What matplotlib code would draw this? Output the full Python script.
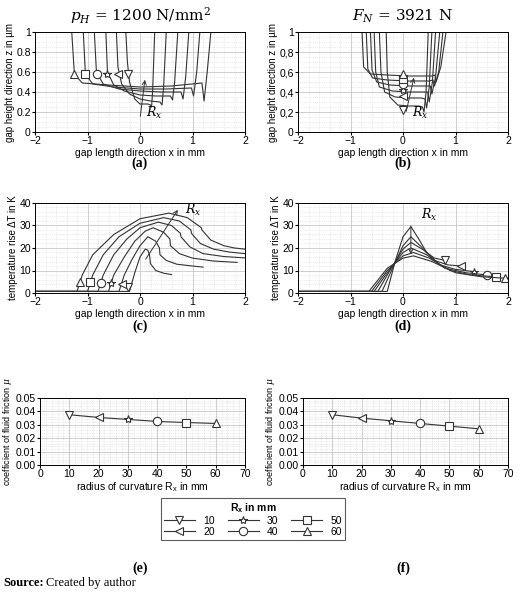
import numpy as np
import matplotlib
matplotlib.use("Agg")
from matplotlib import pyplot as plt

plt.rcParams['font.family'] = ['Liberation Sans', 'DejaVu Sans']
plt.rcParams['font.size'] = 7.5
plt.rcParams['mathtext.fontset'] = 'dejavuserif'

rx = [10, 20, 30, 40, 50, 60]
markers = ['v', '<', '*', 'o', 's', '^']

# (a) gap height, constant Hertz pressure
a_x = [[-0.27, -0.24, -0.2, -0.1, 0.0, 0.15, 0.2, 0.22, 0.24, 0.28],
       [-0.45, -0.42, -0.35, -0.2, 0, 0.2, 0.38, 0.42, 0.45, 0.5],
       [-0.65, -0.62, -0.5, -0.3, 0, 0.3, 0.58, 0.62, 0.66, 0.72],
       [-0.87, -0.83, -0.7, -0.4, 0, 0.4, 0.78, 0.82, 0.87, 0.93],
       [-1.08, -1.04, -0.9, -0.5, 0, 0.5, 0.98, 1.02, 1.08, 1.14],
       [-1.3, -1.25, -1.1, -0.6, 0, 0.6, 1.18, 1.22, 1.28, 1.35]]
a_z = [[1, 0.7, 0.5, 0.33, 0.28, 0.28, 0.27, 0.25, 0.4, 1.0],
       [1, 0.65, 0.48, 0.38, 0.33, 0.31, 0.30, 0.27, 0.45, 1],
       [1, 0.6, 0.47, 0.41, 0.37, 0.36, 0.36, 0.32, 0.5, 1],
       [1, 0.6, 0.48, 0.43, 0.41, 0.40, 0.40, 0.33, 0.55, 1],
       [1, 0.58, 0.48, 0.45, 0.43, 0.43, 0.44, 0.36, 0.6, 1],
       [1, 0.58, 0.49, 0.47, 0.45, 0.46, 0.49, 0.31, 0.6, 1]]
a_mx = [-0.22, -0.42, -0.62, -0.82, -1.05, -1.25]
a_mz = [0.58] * 6

# (b) gap height, constant normal force
b_x = [[-0.32, -0.3, -0.25, -0.1, 0.1, 0.3, 0.37, 0.4, 0.44, 0.48],
       [-0.45, -0.42, -0.35, -0.15, 0.1, 0.35, 0.42, 0.45, 0.5, 0.55],
       [-0.55, -0.52, -0.45, -0.2, 0.1, 0.4, 0.47, 0.5, 0.56, 0.62],
       [-0.62, -0.59, -0.5, -0.25, 0.1, 0.45, 0.52, 0.55, 0.62, 0.7],
       [-0.7, -0.67, -0.58, -0.3, 0.1, 0.5, 0.57, 0.6, 0.68, 0.76],
       [-0.78, -0.75, -0.62, -0.3, 0.1, 0.55, 0.61, 0.63, 0.72, 0.82]]
b_z = [[1, 0.6, 0.35, 0.27, 0.26, 0.26, 0.25, 0.2, 0.4, 1],
       [1, 0.6, 0.4, 0.35, 0.34, 0.34, 0.33, 0.24, 0.45, 1],
       [1, 0.6, 0.45, 0.41, 0.40, 0.40, 0.40, 0.3, 0.5, 1],
       [1, 0.62, 0.5, 0.47, 0.46, 0.46, 0.46, 0.38, 0.55, 1],
       [1, 0.63, 0.54, 0.52, 0.51, 0.51, 0.52, 0.46, 0.6, 1],
       [1, 0.65, 0.58, 0.57, 0.56, 0.56, 0.57, 0.5, 0.65, 1]]
b_mx = [0, 0, 0, 0, 0, 0]
b_mz = [0.22, 0.36, 0.42, 0.48, 0.53, 0.58]

# (c) temperature rise, constant Hertz pressure
c_x = [[-2, -0.2, -0.1, 0, 0.1, 0.15, 0.18, 0.2, 0.3, 0.45, 0.6],
       [-2, -0.4, -0.3, -0.15, 0, 0.15, 0.3, 0.37, 0.38, 0.5, 0.7, 1.0, 1.2],
       [-2, -0.6, -0.5, -0.3, -0.1, 0.1, 0.25, 0.45, 0.57, 0.58, 0.75, 1.0, 1.4, 1.85],
       [-2, -0.8, -0.7, -0.5, -0.25, 0, 0.35, 0.6, 0.77, 0.78, 0.95, 1.2, 1.6, 2.0],
       [-2, -1.0, -0.9, -0.7, -0.4, 0, 0.45, 0.75, 0.97, 0.98, 1.15, 1.4, 1.7, 2.0],
       [-2, -1.2, -1.1, -0.9, -0.5, 0, 0.55, 0.9, 1.17, 1.18, 1.35, 1.6, 1.8, 2.0]]
c_t = [[0.7, 0.7, 9, 16, 19.5, 19, 17, 13, 10, 8.8, 8.2],
       [0.7, 0.7, 8, 15, 21, 25, 23, 20, 17, 14.5, 12.8, 12, 11.5],
       [0.7, 0.7, 8, 16, 23, 27.5, 29, 27, 24, 21, 17.5, 15.5, 14.2, 13.6],
       [0.7, 0.7, 8, 17, 24, 29, 31.5, 30, 26.5, 25, 20.5, 17.5, 16.2, 15.6],
       [0.7, 0.7, 8, 17, 25, 31, 33.5, 32, 28, 26.5, 22, 19.5, 18.2, 17.5],
       [0.7, 0.7, 8, 17, 26, 33, 35.5, 33.5, 29, 28, 23.5, 21, 20, 19.5]]
c_mx = [-0.22, -0.35, -0.55, -0.75, -0.95, -1.15]
c_mt = [2.5, 4, 4.5, 4.5, 5, 5]

# (d) temperature rise, constant normal force
d_x = [[-2, -0.3, -0.15, 0, 0.15, 0.3, 0.45, 0.6, 0.8],
       [-2, -0.4, -0.2, 0, 0.15, 0.35, 0.6, 0.85, 1.1],
       [-2, -0.48, -0.25, 0, 0.15, 0.4, 0.7, 1.0, 1.35],
       [-2, -0.55, -0.3, 0, 0.15, 0.45, 0.8, 1.2, 1.6],
       [-2, -0.6, -0.3, 0, 0.2, 0.5, 0.9, 1.3, 1.78],
       [-2, -0.65, -0.3, 0, 0.2, 0.55, 1.0, 1.5, 2.0]]
d_t = [[0.7, 0.7, 14, 25, 29.5, 24, 18, 15.5, 14.5],
       [0.7, 0.7, 11, 21, 25, 20.5, 14.5, 12.5, 12],
       [0.7, 0.7, 10, 19.5, 22.5, 19, 12.5, 10.5, 9.5],
       [0.7, 0.7, 9, 18, 20, 17, 11, 9, 8],
       [0.7, 0.7, 10, 16.5, 18, 15.5, 10, 8, 7.2],
       [0.7, 0.7, 11, 15.5, 16.5, 14, 9, 7.2, 6.5]]
d_mx = [0.8, 1.1, 1.35, 1.6, 1.78, 1.95]
d_mt = [14.5, 12, 9.5, 8, 7.2, 6.5]

# (e), (f) coefficient of fluid friction
mu_e = [0.0375, 0.0355, 0.034, 0.0325, 0.0317, 0.031]
mu_f = [0.0375, 0.035, 0.033, 0.031, 0.029, 0.027]

fig = plt.figure(figsize=(5.2, 6), dpi=100)
W, H = 520.0, 600.0


def box(x0, y0, x1, y1):
    return [x0 / W, 1 - y1 / H, (x1 - x0) / W, (y1 - y0) / H]


def style(ax):
    ax.minorticks_on()
    ax.grid(which='major', color='#c8c8c8', lw=0.6)
    ax.grid(which='minor', color='#d8d8d8', lw=0.5, ls=':')
    ax.tick_params(which='minor', length=0)
    ax.tick_params(which='major', length=2, labelsize=7.5, pad=1)
    for s in ax.spines.values():
        s.set_linewidth(0.7)


mk = dict(ms=6, mfc='white', mec='#333', mew=0.8, ls='none')

ax_a = fig.add_axes(box(35, 32, 245, 132))
ax_b = fig.add_axes(box(298, 32, 508, 132))
for ax, xs, zs, mx, mz in [(ax_a, a_x, a_z, a_mx, a_mz), (ax_b, b_x, b_z, b_mx, b_mz)]:
    style(ax)
    for i in range(6):
        ax.plot(xs[i], zs[i], color='#333', lw=0.8)
        ax.plot(mx[i], mz[i], marker=markers[i], **mk)
    ax.set_xlim(-2, 2)
    ax.set_ylim(0, 1)
    ax.set_xticks([-2, -1, 0, 1, 2])
    ax.set_yticks([0, 0.2, 0.4, 0.6, 0.8, 1])
    ax.set_xlabel('gap length direction x in mm', labelpad=1)
    ax.set_ylabel('gap height direction z in µm', labelpad=1, fontsize=7)
ax_a.set_yticklabels(['0', '0.2', '0.4', '0.6', '0.8', '1'])
ax_b.set_yticklabels(['0', '0,2', '0,4', '0,6', '0,8', '1'])
ax_a.annotate('', xy=(0.1, 0.55), xytext=(0.0, 0.13),
              arrowprops=dict(arrowstyle='->', color='#333', lw=0.7))
ax_a.text(0.12, 0.15, '$R_x$', fontsize=9)
ax_b.annotate('', xy=(0.22, 0.57), xytext=(0.05, 0.18),
              arrowprops=dict(arrowstyle='->', color='#333', lw=0.7))
ax_b.text(0.18, 0.15, '$R_x$', fontsize=9)
ax_a.set_title('$p_H$ = 1200 N/mm$^2$', fontsize=11, family='DejaVu Serif', pad=8)
ax_b.set_title('$F_N$ = 3921 N', fontsize=11, family='DejaVu Serif', pad=8)

ax_c = fig.add_axes(box(35, 203, 245, 293))
ax_d = fig.add_axes(box(298, 203, 508, 293))
for ax, xs, ts, mx, mt in [(ax_c, c_x, c_t, c_mx, c_mt), (ax_d, d_x, d_t, d_mx, d_mt)]:
    style(ax)
    for i in range(6):
        ax.plot(xs[i], ts[i], color='#333', lw=0.8)
        ax.plot(mx[i], mt[i], marker=markers[i], **mk)
    ax.set_xlim(-2, 2)
    ax.set_ylim(0, 40)
    ax.set_xticks([-2, -1, 0, 1, 2])
    ax.set_yticks([0, 10, 20, 30, 40])
    ax.set_xlabel('gap length direction x in mm', labelpad=1)
    ax.set_ylabel('temperature rise ΔT in K', labelpad=1, fontsize=7)
ax_c.annotate('', xy=(0.75, 38), xytext=(0.08, 14),
              arrowprops=dict(arrowstyle='->', color='#333', lw=0.7))
ax_c.text(0.85, 35, '$R_x$', fontsize=9)
ax_d.annotate('', xy=(0.15, 16), xytext=(0.15, 31),
              arrowprops=dict(arrowstyle='->', color='#333', lw=0.7))
ax_d.text(0.35, 33, '$R_x$', fontsize=9)

ax_e = fig.add_axes(box(40, 398, 245, 465))
ax_f = fig.add_axes(box(303, 398, 508, 465))
for ax, mu in [(ax_e, mu_e), (ax_f, mu_f)]:
    style(ax)
    ax.plot(rx, mu, color='#333', lw=0.8)
    for i in range(6):
        ax.plot(rx[i], mu[i], marker=markers[i], **mk)
    ax.set_xlim(0, 70)
    ax.set_ylim(0, 0.05)
    ax.set_xticks(range(0, 80, 10))
    ax.set_yticks([0, 0.01, 0.02, 0.03, 0.04, 0.05])
    ax.set_xlabel('radius of curvature R$_\\mathregular{x}$ in mm', labelpad=1)
    ax.set_ylabel('coefficient of fluid friction $\\mu$', labelpad=1, fontsize=6.5)

for lbl, xc, yc in [('(a)', 140, 163), ('(b)', 403, 163), ('(c)', 140, 326),
                    ('(d)', 403, 326), ('(e)', 140, 568), ('(f)', 403, 568)]:
    fig.text(xc / W, 1 - yc / H, lbl, ha='center', va='center', fontsize=10,
             weight='bold', family='Liberation Serif')

handles = [plt.Line2D([], [], color='#333', lw=0.8, marker=markers[i], ms=6,
                      mfc='white', mec='#333', mew=0.8) for i in range(6)]
leg = fig.legend(handles, [str(r) for r in rx], ncol=3, loc='center',
                 bbox_to_anchor=(253 / W, 1 - 519 / H), title='R$_\\mathregular{x}$ in mm',
                 fontsize=7.5, title_fontproperties={'weight': 'bold', 'size': 7.5},
                 frameon=True, fancybox=False, edgecolor='#333', handlelength=3,
                 columnspacing=1.2, labelspacing=0.1, borderpad=0.3)
leg.get_frame().set_linewidth(0.8)

fig.text(3 / W, 1 - 586 / H, 'Source:', fontsize=9, weight='bold', family='Liberation Serif')
fig.text(46 / W, 1 - 586 / H, 'Created by author', fontsize=9, family='Liberation Serif')

fig.savefig('out.png', dpi=100)
